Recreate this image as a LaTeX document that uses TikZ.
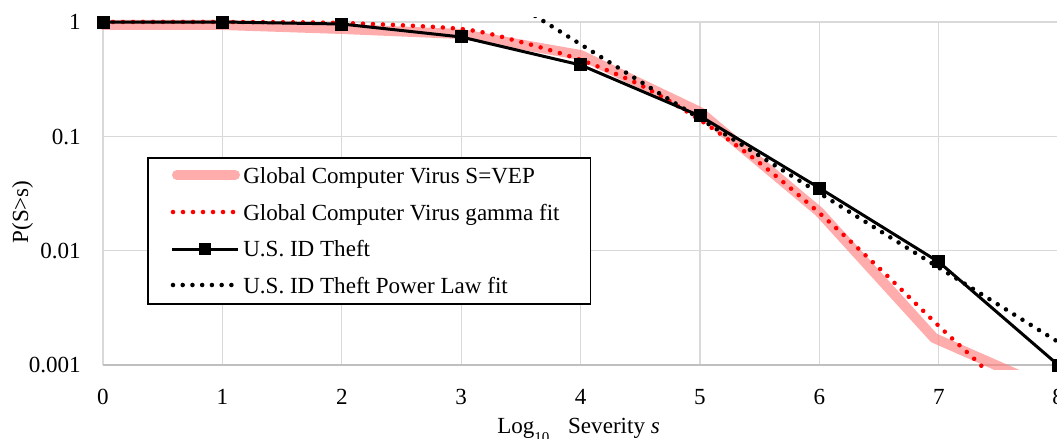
\documentclass[tikz,border=0pt]{standalone}
\usepackage{fontspec}
\setmainfont{Liberation Serif}
\definecolor{gridgray}{RGB}{217,217,217}
\definecolor{axisgray}{RGB}{191,191,191}
\definecolor{veppink}{RGB}{255,128,128}
\begin{document}
\begin{tikzpicture}[x=0.75pt,y=-0.75pt,
  gridline/.style={draw=gridgray, line width=1pt},
  axisline/.style={draw=axisgray, line width=1.1pt},
  lab/.style={font=\fontsize{17.3}{20}\selectfont, inner sep=0pt},
  vepband/.style={draw=veppink, draw opacity=0.65, line width=7.5pt, line join=round, line cap=round},
  gammafit/.style={draw=red, line width=3.4pt, line cap=round, dash pattern=on 0pt off 7.5pt},
  theftline/.style={draw=black, line width=2.25pt, line join=miter},
  powerfit/.style={draw=black, line width=3.4pt, line cap=round, dash pattern=on 0pt off 7.3pt},
  sqmark/.style={rectangle, fill=black, draw=none, inner sep=0pt, minimum size=9.75pt},
  legendbox/.style={rectangle, draw=black, fill=white, line width=1.2pt, inner sep=0pt, anchor=north west,
    minimum width=332pt, minimum height=109.5pt}
]
\useasboundingbox (0,0) rectangle (1057,439);
\clip (0,0) rectangle (1057,439);

% ---- plot area: x = log10 severity, y = log10 P + 3 ----
\begin{scope}[shift={(103,365)}, x=89.55pt, y=85.75pt]
  % grid
  \foreach \i in {0,...,8} \draw[gridline] (\i,0) -- (\i,3);
  \foreach \j in {1,2,3} \draw[gridline] (0,\j) -- (8,\j);
  \draw[axisline] (0,0) -- (8,0);

  % global computer virus: empirical VEP and gamma fit
  \begin{scope}
    \clip (-0.05,-0.035) rectangle (8.2,3.035);
    \draw[vepband] plot coordinates {(0,2.974) (1,2.974) (2,2.939) (3,2.895) (4,2.711)
      (5,2.213) (6,1.338) (6.96,0.236) (8,-0.24)};
    \draw[gammafit] plot[smooth, tension=0.5] coordinates {(0,3) (1,3) (2,2.991) (3,2.939)
      (3.5,2.825) (4,2.668) (4.5,2.449) (5,2.143) (5.5,1.767) (6,1.329) (6.5,0.848)
      (7,0.341) (7.35,0) (7.6,-0.28)};
  \end{scope}

  % U.S. ID theft
  \foreach \s/\v in {0/3, 1/3, 2/2.9825, 3/2.869, 4/2.624, 5/2.178, 6/1.548, 7/0.901, 8/0}
    \coordinate (t\s) at (\s,\v);
  \draw[theftline] (t0) -- (t1) -- (t2) -- (t3) -- (t4) -- (t5) -- (t6) -- (t7) -- (t8);
  \foreach \s in {0,...,8} \node[sqmark] (m\s) at (t\s) {};

  % power law fit
  \begin{scope}
    \clip (-0.05,-0.035) rectangle (8.2,3.035);
    \coordinate (pstart) at (3.55,3.098);
    \coordinate (pend) at (8.1,0.136);
    \draw[powerfit] (pstart) -- (pend);
  \end{scope}
\end{scope}

% ---- axis labels ----
\node[lab, anchor=east] (y0) at (81,22) {1};
\node[lab, anchor=east] (y1) at (81,137) {0.1};
\node[lab, anchor=east] (y2) at (81,251) {0.01};
\node[lab, anchor=east] (y3) at (81,365) {0.001};
\foreach \i in {0,...,8}
  \node[lab, anchor=north] (x\i) at ({103+119.4*\i},389) {\i};
\node[lab, anchor=base west] (xlabel) at (497,433)
  {Log\raisebox{-6.75pt}{\fontsize{11.3}{12}\selectfont 10}\hspace{14pt}Severity \textit{s}};
\node[lab, rotate=90, anchor=base] (ylabel) at (28,212) {P(S>s)};

% ---- legend ----
\node[legendbox] (legend) at (147,157) {};
\coordinate (l1a) at (177,175); \coordinate (l1b) at (235,175);
\coordinate (l2a) at (173,212); \coordinate (l2b) at (236,212);
\coordinate (l3a) at (172,249); \coordinate (l3b) at (238,249);
\coordinate (l4a) at (173,285); \coordinate (l4b) at (236,285);
\draw[vepband] (l1a) -- (l1b);
\draw[gammafit] (l2a) -- (l2b);
\draw[theftline] (l3a) -- (l3b);
\node[sqmark, minimum size=9pt] (lm) at (205,249) {};
\draw[powerfit] (l4a) -- (l4b);
\node[lab, anchor=base west] (e1) at (243,183) {Global Computer Virus S=VEP};
\node[lab, anchor=base west] (e2) at (243,220) {Global Computer Virus gamma fit};
\node[lab, anchor=base west] (e3) at (243,256) {U.S. ID Theft};
\node[lab, anchor=base west] (e4) at (243,293) {U.S. ID Theft Power Law fit};
\end{tikzpicture}
\end{document}
